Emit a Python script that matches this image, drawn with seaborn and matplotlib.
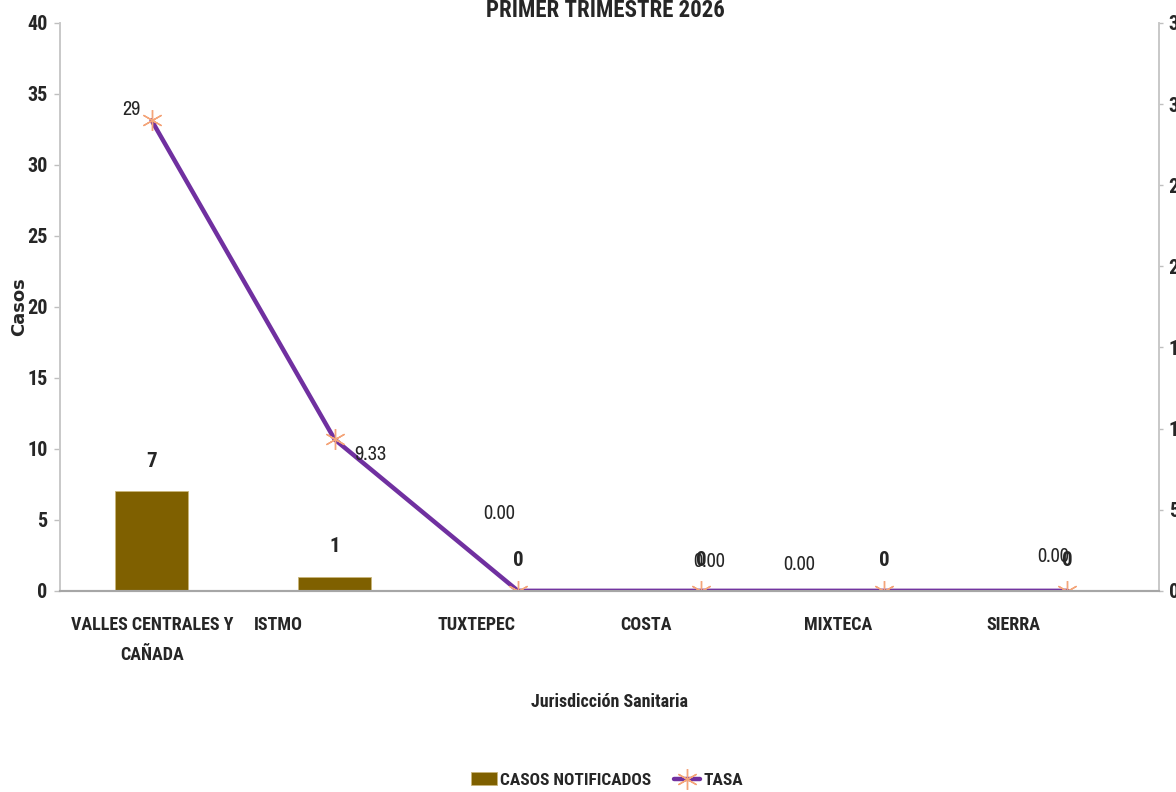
import numpy as np
import matplotlib
matplotlib.use('Agg')
import matplotlib.pyplot as plt
from matplotlib import font_manager as fm
import seaborn as sns

# datos
jurisdicciones = ['VALLES CENTRALES Y\nCAÑADA', 'ISTMO', 'TUXTEPEC', 'COSTA', 'MIXTECA', 'SIERRA']
casos = [7, 1, 0, 0, 0, 0]
tasa = [29, 9.33, 0.00, 0.00, 0.00, 0.00]
tasa_txt = ['29', '9.33', '0.00', '0.00', '0.00', '0.00']
ticks_casos = [0, 5, 10, 15, 20, 25, 30, 35, 40]
ticks_tasa = [0, 5, 10, 15, 20, 25, 30, 35]

COLOR_BAR = '#7F6000'
COLOR_LINE = '#7030A0'
COLOR_MARK = '#F4A57A'

# fuentes angostas tipo "Arial Narrow" segun lo que haya instalado
weights = {}
for f in fm.fontManager.ttflist:
    w = f.weight if isinstance(f.weight, int) else 400
    weights.setdefault(f.name, set()).add(w)
prefs = ['Arial Narrow', 'Liberation Sans Narrow', 'Archivo Narrow', 'Roboto Condensed',
         'IBM Plex Sans Condensed', 'Open Sans Condensed']
reg = [f for f in prefs if f in weights and min(weights[f]) <= 400]
bold = [f for f in prefs if f in weights and max(weights[f]) >= 700]
NARROW = reg[:1] + ['DejaVu Sans']
NARROW_B = bold[:1] + ['DejaVu Sans']

sns.set_style('white')
plt.rcParams['font.family'] = NARROW

fig = plt.figure(figsize=(11.76, 7.92), dpi=100)
ax = fig.add_axes([0.051, 0.254, 0.9345, 0.717])
ax2 = ax.twinx()

pos = np.arange(len(jurisdicciones))

sns.barplot(x=pos, y=casos, color=COLOR_BAR, width=0.4, saturation=1,
            edgecolor='#C9B57A', linewidth=0.6, ax=ax)
sns.lineplot(x=pos, y=tasa, ax=ax2, color=COLOR_LINE, linewidth=3.2,
             marker=(6, 2, 0), markersize=15, markeredgecolor=COLOR_MARK,
             markerfacecolor=COLOR_MARK, markeredgewidth=1.0, legend=False)

ax.set_xlim(-0.5, len(jurisdicciones) - 0.5)
ax.set_ylim(0, 40)
ax2.set_ylim(0, 35)
ax.set_yticks(ticks_casos)
ax2.set_yticks(ticks_tasa)

# etiquetas alineadas a la izquierda de cada categoria (como en Excel)
ax.set_xticks(pos - 0.5 + 0.06)
ax.set_xticklabels(jurisdicciones, fontsize=13, fontweight='bold', family=NARROW_B,
                   ha='left', multialignment='center', linespacing=1.85)

ax.tick_params(axis='x', length=0, pad=18)
ax.tick_params(axis='y', length=4, width=1, color='#BFBFBF', pad=5, labelsize=14.5)
ax2.tick_params(axis='y', length=3, width=1, color='#BFBFBF', pad=4, labelsize=14.5)
for t in ax.get_yticklabels() + ax2.get_yticklabels():
    t.set_fontweight('bold')
    t.set_family(NARROW_B)

for a in (ax, ax2):
    a.spines['top'].set_visible(False)
    a.spines['left'].set_color('#C8C8C8')
    a.spines['right'].set_color('#C8C8C8')
    a.spines['bottom'].set_color('#A6A6A6')
    a.spines['left'].set_linewidth(1.2)
    a.spines['right'].set_linewidth(1.2)
    a.spines['bottom'].set_linewidth(1.5)
    a.grid(False)

ax.set_xlabel('Jurisdicción Sanitaria', fontsize=13, fontweight='bold', family=NARROW_B)
ax.xaxis.set_label_coords(0.5, -0.195)
ax.xaxis.label.set_verticalalignment('center')
ax.set_ylabel('Casos', fontsize=13, fontweight='bold', family='DejaVu Sans')
ax.yaxis.set_label_coords(-0.0375, 0.5)
ax.yaxis.label.set_verticalalignment('center')
ax2.set_ylabel('')

# etiquetas de barras
for i, v in enumerate(casos):
    ax.annotate(str(v), (pos[i], v), xytext=(0, 30), textcoords='offset pixels',
                ha='center', va='center', fontsize=15, fontweight='bold', family=NARROW_B)

# etiquetas de la tasa (posiciones manuales como en el original)
offsets = [(-20, 11), (36, -15), (-19, 77), (8, 29), (-85, 26), (-14, 34)]
for i, (v, txt) in enumerate(zip(tasa, tasa_txt)):
    ax2.annotate(txt, (pos[i], v), xytext=offsets[i], textcoords='offset pixels',
                 ha='center', va='center', fontsize=14.5)

fig.text(0.515, 0.979, 'PRIMER TRIMESTRE 2026', ha='center', va='baseline',
         fontsize=16.5, fontweight='bold', family=NARROW_B)

handles = [ax.containers[0], ax2.lines[0]]
fig.legend(handles, ['CASOS NOTIFICADOS', 'TASA'], loc='center',
           bbox_to_anchor=(0.516, 1 - 780 / 792), ncol=2, frameon=False,
           prop={'family': NARROW_B, 'weight': 'bold', 'size': 12.5},
           handlelength=1.5, handletextpad=0.2, columnspacing=1.3)

fig.savefig('out.png', dpi=100)
